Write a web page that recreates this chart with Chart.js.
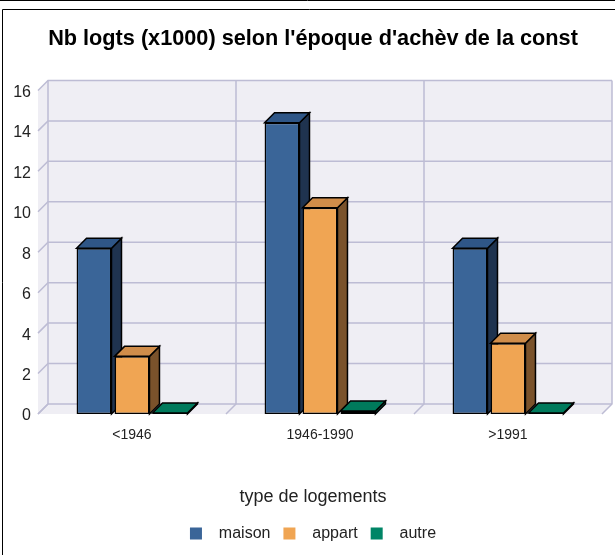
<!DOCTYPE html>
<html>
<head>
<meta charset="utf-8">
<script src="https://cdn.jsdelivr.net/npm/chart.js@4/dist/chart.umd.min.js"></script>
<style>
  body { margin: 0; background: #fff; }
  canvas { display: block; }
</style>
</head>
<body>
<canvas id="graph" width="615" height="555"></canvas>
<script>
// données
var categories = ['<1946', '1946-1990', '>1991'];
var seriesNames = ['maison', 'appart', 'autre'];
var maison = [8.2, 14.4, 8.2];
var appart = [2.85, 10.2, 3.5];
var autre = [0.05, 0.15, 0.05];
var yMax = 16;
var yStep = 2;

// couleurs : face avant, dessus, côté
var frontColors = ['#3a6598', '#f0a553', '#008566'];
var topColors = ['#2f5687', '#d08d4a', '#007a5c'];
var sideColors = ['#1f334f', '#7a522b', '#004e3c'];
var depth = 10;

Chart.defaults.font.family = "'Liberation Sans', Arial, sans-serif";
Chart.defaults.color = '#222';

function poly(ctx, pts) {
  ctx.beginPath();
  ctx.moveTo(pts[0][0], pts[0][1]);
  for (var i = 1; i < pts.length; i++) ctx.lineTo(pts[i][0], pts[i][1]);
  ctx.closePath();
}

var cadre = {
  id: 'cadre',
  afterLayout: function(chart) {
    // les libellés de l'axe y débordent dans la marge de gauche
    chart.scales.y.left = 0;
  },
  afterDraw: function(chart) {
    var ctx = chart.ctx;
    ctx.save();
    ctx.strokeStyle = '#000';
    ctx.lineWidth = 1;
    ctx.beginPath();
    ctx.moveTo(0, 0.5); ctx.lineTo(chart.width, 0.5);
    ctx.moveTo(2.5, chart.height + 5); ctx.lineTo(2.5, 9.5); ctx.lineTo(chart.width + 5, 9.5);
    ctx.stroke();
    ctx.restore();
  }
};

var effet3d = {
  id: 'effet3d',
  beforeDatasetsDraw: function(chart) {
    var ctx = chart.ctx, a = chart.chartArea, ys = chart.scales.y;
    var n = categories.length;
    ctx.save();
    // murs
    ctx.fillStyle = '#efeef4';
    ctx.fillRect(a.left + depth, a.top - depth, a.right - a.left, a.bottom - a.top);
    poly(ctx, [[a.left, a.top], [a.left + depth, a.top - depth], [a.left + depth, a.bottom - depth], [a.left, a.bottom]]);
    ctx.fill();
    poly(ctx, [[a.left, a.bottom], [a.left + depth, a.bottom - depth], [a.right + depth, a.bottom - depth], [a.right, a.bottom]]);
    ctx.fill();
    // grille
    ctx.strokeStyle = '#bdbcd4';
    ctx.lineWidth = 1.5;
    ys.ticks.forEach(function(t) {
      var y = ys.getPixelForValue(t.value);
      ctx.beginPath();
      ctx.moveTo(a.left, y);
      ctx.lineTo(a.left + depth, y - depth);
      ctx.lineTo(a.right + depth, y - depth);
      ctx.stroke();
    });
    for (var k = 0; k <= n; k++) {
      var x = a.left + (a.right - a.left) * k / n;
      ctx.beginPath();
      ctx.moveTo(x, a.bottom);
      ctx.lineTo(x + depth, a.bottom - depth);
      ctx.lineTo(x + depth, a.top - depth);
      ctx.stroke();
    }
    // faces des barres
    ctx.strokeStyle = '#000';
    ctx.lineWidth = 1.5;
    ctx.lineJoin = 'miter';
    for (var i = 0; i < n; i++) {
      for (var d = 0; d < chart.data.datasets.length; d++) {
        var bar = chart.getDatasetMeta(d).data[i];
        var l = bar.x - bar.width / 2, r = bar.x + bar.width / 2;
        var top = Math.min(bar.y, bar.base), base = Math.max(bar.y, bar.base);
        poly(ctx, [[r, top], [r + depth, top - depth], [r + depth, base - depth], [r, base]]);
        ctx.fillStyle = sideColors[d];
        ctx.fill(); ctx.stroke();
        poly(ctx, [[l, top], [l + depth, top - depth], [r + depth, top - depth], [r, top]]);
        ctx.fillStyle = topColors[d];
        ctx.fill(); ctx.stroke();
      }
    }
    ctx.restore();
  }
};

var ctx = document.getElementById('graph').getContext('2d');
var myChart = new Chart(ctx, {
  type: 'bar',
  data: {
    labels: categories,
    datasets: [
      { label: seriesNames[0], data: maison, backgroundColor: frontColors[0] },
      { label: seriesNames[1], data: appart, backgroundColor: frontColors[1] },
      { label: seriesNames[2], data: autre, backgroundColor: frontColors[2] }
    ]
  },
  options: {
    responsive: false,
    animation: false,
    layout: { padding: { left: 24, right: 13, top: 0, bottom: 3.5 } },
    datasets: {
      bar: {
        borderColor: '#000',
        borderWidth: 1.5,
        borderSkipped: false,
        categoryPercentage: 0.606,
        barPercentage: 0.92
      }
    },
    scales: {
      x: {
        grid: { display: false, drawTicks: false },
        border: { display: false },
        ticks: { padding: 12.5, font: { size: 14 }, color: '#222' },
        afterFit: function(scale) { scale.height = 73.9; }
      },
      y: {
        min: 0,
        max: yMax,
        grid: { display: false, drawTicks: false },
        border: { display: false },
        ticks: { stepSize: yStep, padding: 7, labelOffset: 2, font: { size: 16 }, color: '#222' },
        afterFit: function(scale) { scale.width = 14; }
      }
    },
    plugins: {
      title: {
        display: true,
        text: "Nb logts (x1000) selon l'époque d'achèv de la const",
        color: '#000',
        font: { size: 21.7, weight: 'bold' },
        padding: { top: 26, bottom: 38.4 }
      },
      legend: {
        position: 'bottom',
        title: {
          display: true,
          text: 'type de logements',
          color: '#222',
          font: { size: 18 },
          padding: { top: 0, bottom: 3 }
        },
        labels: {
          boxWidth: 12,
          boxHeight: 12,
          padding: 13,
          font: { size: 16 },
          color: '#222',
          generateLabels: function(chart) {
            return chart.data.datasets.map(function(ds, i) {
              return {
                text: '  ' + ds.label,
                fillStyle: ds.backgroundColor,
                strokeStyle: ds.backgroundColor,
                lineWidth: 0,
                hidden: false,
                datasetIndex: i
              };
            });
          }
        }
      },
      tooltip: { enabled: false }
    }
  },
  plugins: [effet3d, cadre]
});
</script>
</body>
</html>
